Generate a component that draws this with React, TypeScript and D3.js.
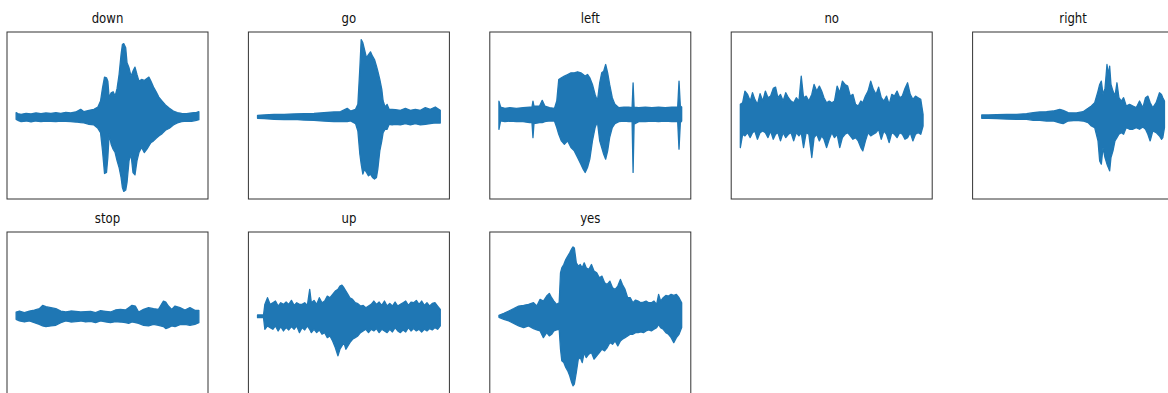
import React from "react";
import * as d3 from "d3";

type Sample = [number, number, number]; // frame, upper envelope, lower envelope

const words = ["down", "go", "left", "no", "right", "stop", "up", "yes"];

const downWave: Sample[] = [
  [0, 12, -8], [5, 9, -11], [15, 7, -15], [30, 10, -13], [45, 8, -16], [60, 11, -13], [75, 9, -15],
  [90, 11, -13], [105, 10, -14], [120, 12, -15], [135, 10, -13], [150, 13, -14], [165, 11, -15],
  [180, 14, -16], [195, 22, -18], [205, 15, -19], [220, 19, -23], [235, 22, -25], [247, 29, -35],
  [255, 47, -48], [261, 87, -103], [267, 119, -171], [273, 117, -168], [277, 107, -123], [281, 57, -53],
  [287, 72, -83], [293, 75, -98], [299, 62, -108], [305, 85, -133], [311, 127, -153], [317, 187, -183],
  [321, 217, -213], [325, 220, -225], [331, 207, -221], [335, 162, -198], [341, 147, -133],
  [347, 122, -113], [353, 137, -168], [359, 149, -175], [365, 127, -133], [371, 107, -108],
  [379, 112, -93], [387, 109, -108], [395, 115, -98], [401, 119, -88], [407, 107, -78], [415, 89, -73],
  [423, 75, -65], [431, 59, -58], [441, 47, -51], [451, 35, -41], [463, 25, -35], [475, 17, -25],
  [487, 12, -19], [500, 10, -15], [515, 9, -13], [530, 11, -14], [545, 13, -11], [552, 15, -9],
];

const goWave: Sample[] = [
  [0, 4, -5], [20, 5, -6], [50, 7, -8], [80, 7, -9], [110, 8, -8], [140, 9, -10], [170, 10, -11],
  [200, 12, -13], [230, 14, -15], [250, 15, -15], [270, 25, -15], [280, 17, -13], [295, 22, -21],
  [302, 37, -43], [308, 147, -113], [312, 232, -143], [317, 222, -173], [322, 202, -158],
  [328, 177, -168], [334, 187, -178], [340, 195, -173], [346, 182, -183], [352, 172, -188],
  [358, 152, -183], [362, 137, -158], [368, 112, -103], [374, 82, -73], [378, 47, -48], [384, 29, -38],
  [390, 37, -38], [396, 22, -23], [405, 22, -25], [415, 21, -23], [430, 19, -25], [445, 25, -21],
  [460, 19, -25], [475, 22, -21], [490, 19, -25], [505, 27, -23], [520, 22, -21], [535, 29, -19],
  [550, 19, -19],
];

const leftWave: Sample[] = [
  [0, 47, -38], [5, 29, -13], [18, 25, -15], [33, 27, -13], [53, 25, -15], [73, 27, -15], [93, 29, -18],
  [100, 29, -18], [103, 47, -63], [106, 32, -21], [123, 32, -18], [131, 49, -18], [139, 32, -15],
  [153, 27, -13], [168, 25, -13], [175, 47, -33], [181, 112, -53], [189, 117, -73], [198, 122, -83],
  [208, 127, -73], [218, 132, -93], [228, 132, -103], [238, 135, -123], [248, 132, -143],
  [255, 127, -158], [261, 122, -168], [268, 127, -153], [275, 117, -128], [283, 97, -73], [291, 67, -33],
  [298, 47, -15], [305, 102, -73], [311, 132, -93], [317, 137, -113], [323, 157, -128], [329, 132, -103],
  [335, 97, -63], [343, 57, -33], [351, 37, -21], [363, 27, -15], [378, 29, -13], [393, 29, -15],
  [403, 27, -15], [406, 102, -168], [409, 29, -23], [423, 27, -15], [443, 29, -15], [463, 27, -13],
  [483, 29, -15], [503, 27, -13], [523, 29, -15], [541, 29, -15], [545, 107, -98], [549, 32, -18],
  [553, 29, -13],
];

const noWave: Sample[] = [
  [0, 37, -93], [7, 42, -53], [14, 77, -58], [22, 67, -48], [30, 47, -63], [37, 72, -48], [44, 52, -43],
  [52, 37, -68], [60, 69, -48], [68, 47, -43], [76, 77, -48], [84, 57, -63], [92, 62, -43], [100, 85, -68],
  [107, 89, -53], [114, 57, -48], [122, 67, -73], [130, 47, -48], [138, 72, -63], [146, 57, -53],
  [154, 47, -48], [162, 42, -73], [170, 57, -48], [178, 47, -58], [185, 122, -48], [192, 57, -93],
  [200, 62, -48], [208, 47, -53], [217, 67, -123], [224, 97, -63], [232, 77, -53], [240, 92, -73],
  [247, 77, -58], [254, 57, -68], [262, 42, -93], [270, 47, -68], [278, 42, -48], [286, 47, -63],
  [294, 92, -53], [302, 72, -93], [310, 107, -63], [318, 97, -53], [326, 92, -48], [334, 62, -58],
  [342, 67, -68], [350, 37, -63], [358, 32, -73], [366, 47, -93], [372, 42, -103], [380, 62, -73],
  [388, 77, -48], [396, 107, -58], [404, 82, -53], [412, 67, -48], [420, 89, -38], [428, 57, -68],
  [436, 47, -43], [444, 62, -53], [452, 37, -78], [460, 67, -48], [468, 62, -53], [476, 77, -63],
  [484, 57, -48], [492, 62, -53], [500, 85, -68], [508, 102, -63], [516, 67, -48], [524, 52, -73],
  [532, 62, -53], [540, 57, -48], [548, 52, -53], [555, 7, -28],
];

const rightWave: Sample[] = [
  [0, 5, -5], [20, 5, -5], [45, 6, -6], [75, 7, -7], [105, 7, -8], [135, 9, -8], [155, 12, -11],
  [175, 14, -11], [195, 15, -13], [215, 17, -13], [235, 22, -19], [245, 19, -21], [260, 12, -13],
  [285, 11, -11], [305, 15, -13], [320, 25, -18], [330, 32, -28], [340, 42, -33], [350, 77, -73],
  [355, 97, -133], [360, 107, -143], [365, 67, -93], [371, 85, -123], [377, 157, -143], [381, 127, -153],
  [385, 152, -163], [389, 97, -123], [395, 77, -103], [401, 62, -73], [407, 102, -63], [413, 57, -53],
  [420, 47, -48], [427, 57, -53], [435, 32, -33], [445, 37, -38], [455, 32, -38], [465, 27, -33],
  [475, 47, -38], [485, 27, -31], [493, 57, -38], [500, 62, -53], [507, 42, -73], [515, 27, -43],
  [525, 42, -48], [535, 72, -58], [541, 67, -68], [545, 57, -63], [550, 47, -33],
];

const stopWave: Sample[] = [
  [0, 14, -8], [10, 17, -13], [25, 12, -16], [40, 17, -13], [55, 20, -18], [70, 24, -23], [80, 34, -28],
  [90, 30, -30], [105, 27, -28], [120, 24, -26], [135, 17, -18], [150, 14, -13], [165, 17, -16],
  [180, 16, -15], [195, 14, -13], [210, 15, -16], [225, 16, -14], [240, 12, -18], [255, 18, -13],
  [270, 16, -16], [285, 14, -18], [300, 20, -15], [315, 22, -16], [330, 20, -18], [340, 27, -20],
  [350, 34, -16], [360, 32, -18], [370, 14, -20], [385, 22, -26], [400, 27, -28], [415, 24, -23],
  [430, 22, -26], [445, 47, -30], [452, 44, -36], [460, 32, -33], [470, 22, -28], [480, 32, -30],
  [495, 27, -24], [510, 20, -23], [525, 27, -26], [540, 19, -23], [552, 19, -18],
];

const upWave: Sample[] = [
  [0, 5, -3], [18, 5, -3], [22, 37, -38], [30, 57, -28], [38, 37, -33], [46, 42, -38], [54, 47, -28],
  [62, 32, -43], [70, 42, -30], [78, 37, -43], [86, 44, -33], [94, 37, -40], [102, 49, -30],
  [110, 34, -38], [118, 42, -28], [126, 37, -48], [134, 37, -33], [142, 42, -40], [150, 34, -28],
  [157, 82, -38], [162, 42, -48], [170, 49, -38], [178, 37, -48], [186, 57, -40], [194, 42, -53],
  [202, 47, -48], [210, 62, -63], [218, 57, -58], [226, 67, -73], [234, 77, -93], [242, 82, -118],
  [248, 92, -98], [254, 95, -88], [260, 87, -78], [266, 77, -98], [272, 67, -88], [278, 57, -78],
  [286, 52, -68], [294, 42, -63], [302, 39, -58], [310, 32, -48], [318, 34, -43], [326, 27, -38],
  [334, 32, -48], [342, 37, -38], [350, 47, -43], [358, 37, -36], [366, 44, -48], [374, 34, -38],
  [382, 47, -43], [390, 32, -48], [398, 40, -38], [406, 32, -46], [414, 44, -33], [422, 32, -43],
  [430, 37, -48], [438, 42, -40], [446, 47, -46], [454, 34, -33], [462, 44, -43], [470, 42, -36],
  [478, 49, -43], [486, 37, -38], [494, 47, -46], [502, 34, -38], [510, 42, -43], [518, 32, -36],
  [526, 40, -40], [534, 42, -33], [542, 32, -38], [550, 22, -28],
];

const yesWave: Sample[] = [
  [0, 4, -2], [15, 10, -8], [30, 17, -13], [45, 24, -20], [60, 32, -28], [75, 34, -33], [90, 37, -28],
  [105, 42, -36], [115, 32, -40], [125, 52, -43], [135, 47, -63], [145, 62, -48], [153, 70, -58],
  [160, 57, -53], [167, 47, -43], [175, 37, -40], [183, 42, -38], [187, 132, -98], [191, 147, -133],
  [197, 157, -138], [203, 172, -153], [209, 182, -163], [215, 192, -178], [221, 204, -198],
  [225, 210, -208], [229, 207, -203], [235, 162, -168], [241, 152, -128], [247, 157, -123],
  [253, 147, -138], [259, 162, -108], [265, 147, -123], [273, 142, -113], [281, 157, -108],
  [289, 137, -128], [297, 132, -118], [305, 117, -108], [313, 122, -98], [321, 102, -103],
  [329, 97, -93], [337, 107, -78], [345, 87, -83], [353, 82, -73], [361, 92, -88], [369, 112, -73],
  [375, 97, -68], [383, 82, -63], [391, 57, -58], [399, 57, -53], [407, 42, -53], [415, 50, -48],
  [423, 47, -48], [431, 42, -46], [439, 44, -48], [447, 47, -43], [455, 42, -40], [463, 42, -43],
  [471, 47, -38], [479, 37, -33], [485, 67, -23], [491, 47, -33], [499, 57, -38], [507, 64, -48],
  [515, 62, -53], [523, 67, -63], [531, 64, -78], [539, 67, -63], [547, 57, -53], [555, 42, -33],
];

const waves = [downWave, goWave, leftWave, noWave, rightWave, stopWave, upWave, yesWave];

const WIDTH = 1168;
const HEIGHT = 393;
const COLS = 5;
const LEFT = 7;
const COL_STEP = 241.4;
const TOP = 32;
const ROW_STEP = 200;
const PANEL_W = 201;
const PANEL_H = 167;
const BLUE = "#1f77b4";

// matplotlib-style autoscale: data extent plus 5% each side
function padded([lo, hi]: [number, number]): [number, number] {
  const m = (hi - lo) * 0.05;
  return [lo - m, hi + m];
}

export default function App() {
  // shared y axis across all subplots
  const yMin = d3.min(waves, (w) => d3.min(w, (d) => d[2])) as number;
  const yMax = d3.max(waves, (w) => d3.max(w, (d) => d[1])) as number;
  const yScale = d3.scaleLinear().domain(padded([yMin, yMax])).range([PANEL_H, 0]);

  return (
    <svg
      width={WIDTH}
      height={HEIGHT}
      style={{ position: "absolute", left: 0, top: 0, background: "#fff" }}
      fontFamily="DejaVu Sans, sans-serif"
    >
      {words.map((word, i) => {
        const data = waves[i];
        const col = i % COLS;
        const row = Math.floor(i / COLS);
        const x0 = LEFT + col * COL_STEP;
        const y0 = TOP + row * ROW_STEP;
        const xScale = d3
          .scaleLinear()
          .domain(padded([0, data[data.length - 1][0]]))
          .range([0, PANEL_W]);
        const area = d3
          .area<Sample>()
          .x((d) => xScale(d[0]))
          .y0((d) => yScale(d[2]))
          .y1((d) => yScale(d[1]));
        return (
          <g key={word} transform={`translate(${x0},${y0})`}>
            <path d={area(data) ?? ""} fill={BLUE} stroke={BLUE} strokeWidth={1.3} strokeLinejoin="round" />
            <rect x={0} y={0} width={PANEL_W} height={PANEL_H} fill="none" stroke="#333" strokeWidth={1} />
            <text
              transform={`translate(${PANEL_W / 2},-9) scale(0.89,1)`}
              textAnchor="middle"
              fontSize={13.2}
              fill="#111"
            >
              {word}
            </text>
          </g>
        );
      })}
    </svg>
  );
}
